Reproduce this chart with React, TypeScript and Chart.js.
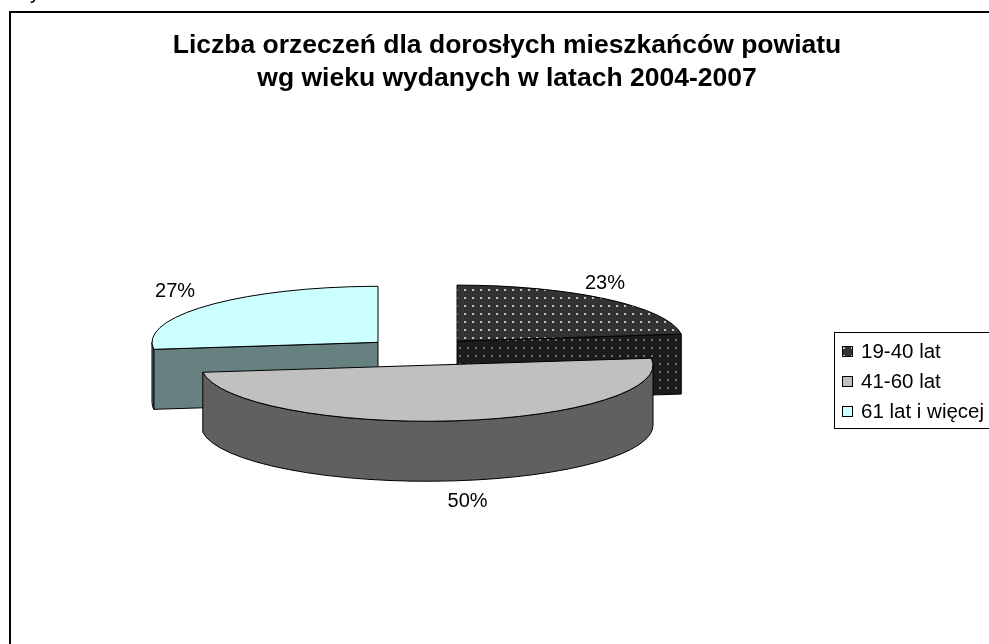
import React, { useEffect, useRef } from "react";
import { Chart, registerables } from "chart.js";

Chart.register(...registerables);

// ---- data ----
const TITLE_LINES = [
  "Liczba orzeczeń dla dorosłych mieszkańców powiatu",
  "wg wieku wydanych w latach 2004-2007",
];
const CATEGORIES = ["19-40 lat", "41-60 lat", "61 lat i więcej"];
const SHARES = [23, 50, 27];

// ---- geometry / style ----
const W = 989;
const H = 644;
const CX = 420;
const CY = 351.5;
const RADIUS = 226;
const SQUASH = 56 / 226;
const DEPTH = 60;
const EXPLODE = 56;
const FONT = "'Liberation Sans', Arial, sans-serif";
const TOP_COLORS = ["#333333", "#c0c0c0", "#ccffff"];
const SIDE_COLORS = ["#1c1c1c", "#606060", "#678080"];
const LABEL_NUDGE: [number, number][] = [
  [-24, 0],
  [8, 0],
  [-8, 0],
];

function makeDots(bg: string, dot: string, squash: number): CanvasPattern | string {
  const c = document.createElement("canvas");
  c.width = 8;
  c.height = 8;
  const g = c.getContext("2d");
  if (!g) return bg;
  g.fillStyle = bg;
  g.fillRect(0, 0, 8, 8);
  g.fillStyle = dot;
  g.fillRect(3, 3, 2, 2);
  const p = g.createPattern(c, "repeat");
  if (!p) return bg;
  if (squash !== 1 && typeof DOMMatrix !== "undefined") {
    p.setTransform(new DOMMatrix([1, 0, 0, 1 / squash, 0, 0]));
  }
  return p;
}

export default function App() {
  const ref = useRef<HTMLCanvasElement | null>(null);

  useEffect(() => {
    const canvas = ref.current;
    if (!canvas) return;

    const topFills: any[] = [
      makeDots(TOP_COLORS[0], "#c8c8c8", SQUASH),
      TOP_COLORS[1],
      TOP_COLORS[2],
    ];
    const sideFills: any[] = [
      makeDots(SIDE_COLORS[0], "#707070", 1),
      SIDE_COLORS[1],
      SIDE_COLORS[2],
    ];
    const legendFills: any[] = [makeDots(TOP_COLORS[0], "#c8c8c8", 1), TOP_COLORS[1], TOP_COLORS[2]];

    const pie3d = {
      id: "pie3d",
      beforeDatasetsDraw(chart: any) {
        const ctx: CanvasRenderingContext2D = chart.ctx;
        const meta = chart.getDatasetMeta(0);
        const arcs = meta.data.map((el: any, i: number) => {
          const p = el.getProps(["x", "y", "startAngle", "endAngle", "outerRadius"], true);
          const mid = (p.startAngle + p.endAngle) / 2;
          const dx = Math.cos(mid) * EXPLODE;
          const dy = Math.sin(mid) * EXPLODE * SQUASH;
          return { el, i, ...p, mid, dx, dy, sx: p.x + dx, sy: p.y + dy };
        });
        chart.$pie3d = arcs;
        const order = [...arcs].sort((a: any, b: any) => a.sy - b.sy);
        for (const a of order) {
          const r = a.outerRadius;
          const ry = r * SQUASH;
          const P = (ang: number) => [a.sx + r * Math.cos(ang), a.sy + ry * Math.sin(ang)];
          ctx.save();
          ctx.fillStyle = sideFills[a.i];
          ctx.strokeStyle = "#000";
          ctx.lineWidth = 1;
          ctx.lineJoin = "round";
          const face = (ang: number) => {
            const q = P(ang);
            ctx.beginPath();
            ctx.moveTo(a.sx, a.sy);
            ctx.lineTo(q[0], q[1]);
            ctx.lineTo(q[0], q[1] + DEPTH);
            ctx.lineTo(a.sx, a.sy + DEPTH);
            ctx.closePath();
            ctx.fill();
            ctx.stroke();
          };
          if (Math.cos(a.startAngle) < -1e-6) face(a.startAngle);
          if (Math.cos(a.endAngle) > 1e-6) face(a.endAngle);
          const a0 = Math.max(a.startAngle, 0);
          const a1 = Math.min(a.endAngle, Math.PI);
          if (a1 > a0) {
            ctx.beginPath();
            ctx.ellipse(a.sx, a.sy, r, ry, 0, a0, a1, false);
            ctx.ellipse(a.sx, a.sy + DEPTH, r, ry, 0, a1, a0, true);
            ctx.closePath();
            ctx.fill();
            ctx.stroke();
          }
          ctx.restore();

          // top face drawn by the library's arc element, projected flat
          ctx.save();
          ctx.translate(a.dx, a.dy);
          ctx.translate(0, a.y);
          ctx.scale(1, SQUASH);
          ctx.translate(0, -a.y);
          a.el.draw(ctx);
          ctx.restore();

          ctx.save();
          ctx.beginPath();
          ctx.moveTo(a.sx, a.sy);
          ctx.ellipse(a.sx, a.sy, r, ry, 0, a.startAngle, a.endAngle, false);
          ctx.closePath();
          ctx.strokeStyle = "#000";
          ctx.lineWidth = 1;
          ctx.lineJoin = "round";
          ctx.stroke();
          ctx.restore();
        }
        return false;
      },
      afterDraw(chart: any) {
        const ctx: CanvasRenderingContext2D = chart.ctx;
        const arcs = chart.$pie3d || [];
        ctx.save();
        // frame
        ctx.strokeStyle = "#000";
        ctx.lineWidth = 2;
        ctx.strokeRect(10, 12, 1100, 800);
        ctx.fillStyle = "#000";
        ctx.font = `20px ${FONT}`;
        ctx.textAlign = "left";
        ctx.textBaseline = "alphabetic";
        ctx.fillText("y", 30, -1);

        // title
        ctx.font = `bold 26.5px ${FONT}`;
        ctx.textAlign = "center";
        ctx.textBaseline = "middle";
        TITLE_LINES.forEach((t, i) => ctx.fillText(t, 507, 46 + i * 33));

        // percent labels
        ctx.font = `20px ${FONT}`;
        const total = SHARES.reduce((s, v) => s + v, 0);
        for (const a of arcs) {
          const c = Math.cos(a.mid);
          const s = Math.sin(a.mid);
          const x = a.sx + c * a.outerRadius * 1.15 + LABEL_NUDGE[a.i][0];
          const y = a.sy + s * a.outerRadius * SQUASH * 1.38 + (s > 0 ? DEPTH : 0) + LABEL_NUDGE[a.i][1];
          const pct = Math.round((SHARES[a.i] / total) * 100) + "%";
          ctx.fillText(pct, x, y);
        }

        // legend
        ctx.lineWidth = 1;
        ctx.strokeRect(834.5, 332.5, 300, 96);
        ctx.textAlign = "left";
        ctx.font = `20.5px ${FONT}`;
        CATEGORIES.forEach((label, i) => {
          const cy = 351.5 + i * 30;
          ctx.fillStyle = legendFills[i];
          ctx.fillRect(842, cy - 5.5, 11, 11);
          ctx.strokeStyle = "#000";
          ctx.strokeRect(842.5, cy - 5, 10, 10);
          ctx.fillStyle = "#000";
          ctx.fillText(label, 861, cy + 1);
        });
        ctx.restore();
      },
    };

    const chart = new Chart(canvas, {
      type: "pie",
      data: {
        labels: CATEGORIES,
        datasets: [
          {
            data: SHARES,
            backgroundColor: topFills,
            borderWidth: 0,
            offset: 0,
            hoverOffset: 0,
          },
        ],
      },
      options: {
        responsive: false,
        maintainAspectRatio: false,
        animation: false,
        events: [],
        radius: RADIUS,
        layout: { padding: { left: 0, right: W - 2 * CX, top: 2 * CY - H, bottom: 0 } },
        plugins: {
          legend: { display: false },
          title: { display: false },
          tooltip: { enabled: false },
        },
      } as any,
      plugins: [pie3d as any],
    });
    return () => chart.destroy();
  }, []);

  return (
    <div style={{ position: "fixed", left: 0, top: 0, width: W, height: H, background: "#fff" }}>
      <canvas ref={ref} width={W} height={H} style={{ width: W, height: H, display: "block" }} />
    </div>
  );
}
